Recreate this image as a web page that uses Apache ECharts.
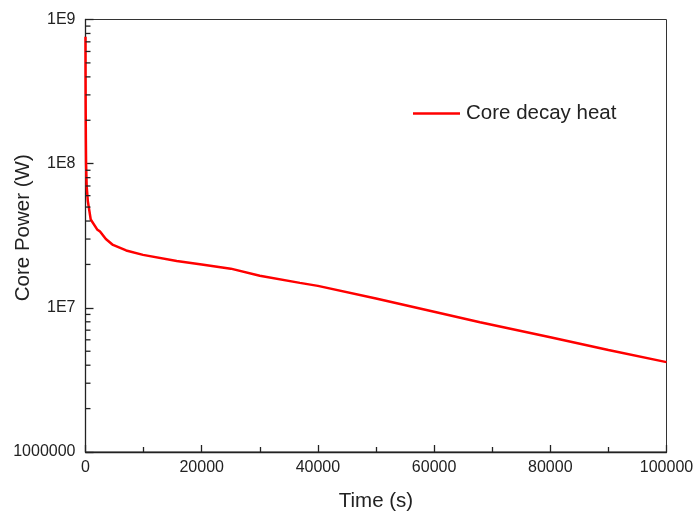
<!DOCTYPE html>
<html>
<head>
<meta charset="utf-8">
<script src="https://cdn.jsdelivr.net/npm/echarts@6/dist/echarts.min.js"></script>
<style>html,body{margin:0;padding:0;background:#fff}#c{width:696px;height:515px}</style>
</head>
<body>
<div id="c"></div>
<script>
// Time (s)
const timeS = [0, 10, 30, 60, 100, 200, 400, 900, 2000, 2500, 3500, 4730, 7000, 9900, 15700, 20000, 25000, 30000, 36900, 40000, 50000, 60000, 67900, 80000, 90000, 100000];
// Core decay heat (W)
const powerW = [7.6e8, 4.0e8, 2.5e8, 1.5e8, 1.0e8, 7.0e7, 5.5e7, 4.1e7, 3.5e7, 3.38e7, 3.0e7, 2.73e7, 2.5e7, 2.33e7, 2.11e7, 2.0e7, 1.87e7, 1.67e7, 1.49e7, 1.42e7, 1.16e7, 9.4e6, 7.94e6, 6.25e6, 5.1e6, 4.2e6];
const seriesName = 'Core decay heat';
const yMajorLabels = {1e6: '1000000', 1e7: '1E7', 1e8: '1E8', 1e9: '1E9'};
const yMinorTicks = [];
[1e6, 1e7, 1e8].forEach(d => { for (let k = 2; k <= 9; k++) yMinorTicks.push(k * d); });

const font = '"Liberation Sans", Arial, sans-serif';
const chart = echarts.init(document.getElementById('c'));
chart.setOption({
  animation: false,
  backgroundColor: '#fff',
  grid: {left: 85.5, right: 29.5, top: 19.5, bottom: 63, containLabel: false, outerBoundsMode: 'none',
    show: true, borderColor: '#333', borderWidth: 1, backgroundColor: 'transparent'},
  legend: {
    data: [{name: seriesName, icon: 'rect'}], left: 413, top: 103, padding: 0,
    itemWidth: 47, itemHeight: 2.5, itemGap: 10,
    textStyle: {fontFamily: font, fontSize: 20.5, color: '#222', padding: [0, 0, 0, 1]}
  },
  xAxis: {
    type: 'value', min: 0, max: 100000, interval: 20000,
    name: 'Time (s)', nameLocation: 'middle', nameGap: 39, nameMoveOverlap: false,
    nameTextStyle: {fontFamily: font, fontSize: 20.5, color: '#222'},
    axisLine: {lineStyle: {color: '#222', width: 1.3}},
    axisTick: {inside: true, length: 7, lineStyle: {color: '#222', width: 1.3}},
    minorTick: {show: true, splitNumber: 2, length: 5, lineStyle: {color: '#222', width: 1.3}},
    splitLine: {show: false},
    axisLabel: {fontFamily: font, fontSize: 16, color: '#222', margin: 8, formatter: v => String(v)}
  },
  yAxis: {
    type: 'log', logBase: 10, min: 1e6, max: 1e9,
    name: 'Core Power (W)', nameLocation: 'middle', nameGap: 52, nameMoveOverlap: false,
    nameTextStyle: {fontFamily: font, fontSize: 20.5, color: '#222', padding: [0, 0, 0, 16]},
    axisLine: {show: true, lineStyle: {color: '#222', width: 1.3}},
    axisTick: {inside: true, length: 8, lineStyle: {color: '#222', width: 1.3}},
    minorTick: {show: false},
    splitLine: {show: false},
    axisLabel: {fontFamily: font, fontSize: 16, color: '#222', margin: 10,
      formatter: v => yMajorLabels[Math.round(v)] || ''}
  },
  series: [
    {
      name: seriesName, type: 'line', symbol: 'none', showSymbol: false, smooth: false,
      lineStyle: {color: '#ff0000', width: 2.5}, itemStyle: {color: '#ff0000'},
      data: timeS.map((t, i) => [t, powerW[i]]), z: 3
    },
    {
      name: 'minorTicks', type: 'custom', silent: true, z: 4,
      data: yMinorTicks.map(v => [0, v]),
      encode: {x: 0, y: 1},
      renderItem: (params, api) => {
        const p = api.coord([api.value(0), api.value(1)]);
        return {type: 'line', shape: {x1: p[0], y1: p[1], x2: p[0] + 5, y2: p[1]},
          style: {stroke: '#222', lineWidth: 1.3}};
      }
    }
  ]
});
</script>
</body>
</html>
